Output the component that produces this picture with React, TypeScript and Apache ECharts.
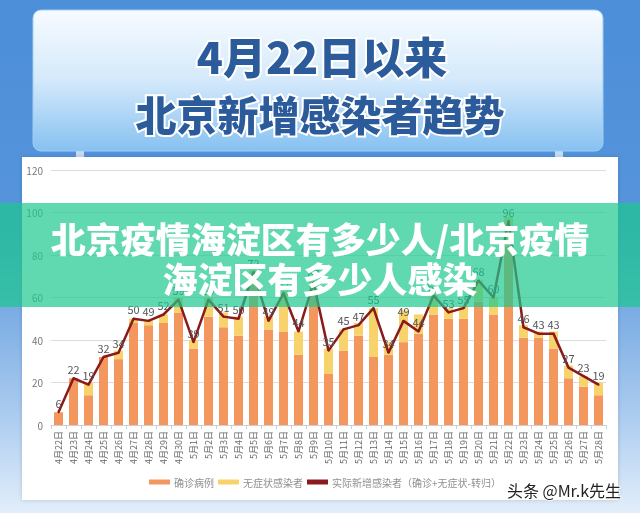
import React, { useEffect, useRef } from "react";
import * as echarts from "echarts";

const dates = [
  "4月22日", "4月23日", "4月24日", "4月25日", "4月26日", "4月27日", "4月28日", "4月29日", "4月30日",
  "5月1日", "5月2日", "5月3日", "5月4日", "5月5日", "5月6日", "5月7日", "5月8日", "5月9日", "5月10日",
  "5月11日", "5月12日", "5月13日", "5月14日", "5月15日", "5月16日", "5月17日", "5月18日", "5月19日", "5月20日",
  "5月21日", "5月22日", "5月23日", "5月24日", "5月25日", "5月26日", "5月27日", "5月28日",
];
const confirmed = [
  6, 22, 14, 32, 31, 48, 47, 48, 53,
  36, 51, 46, 42, 66, 45, 44, 33, 62, 24,
  35, 42, 32, 33, 39, 43, 52, 50, 50, 58,
  52, 84, 41, 41, 36, 22, 18, 14,
];
const asymptomatic = [
  0, 0, 6, 0, 4, 2, 2, 4, 7,
  4, 9, 7, 9, 7, 6, 19, 11, 6, 12,
  10, 6, 23, 6, 15, 9, 10, 5, 6, 10,
  8, 14, 6, 3, 8, 6, 5, 6,
];
const actualNew = [
  6, 22, 19, 32, 34, 50, 49, 52, 59,
  39, 59, 51, 50, 72, 49, 62, 44, 67, 35,
  45, 47, 55, 34, 49, 44, 61, 53, 55, 68,
  60, 96, 46, 43, 43, 27, 23, 19,
];
const yTicks = { min: 0, max: 120, interval: 20 };
const seriesNames = ["确诊病例", "无症状感染者", "实际新增感染者（确诊+无症状-转归）"];
const titleLines = ["4月22日以来", "北京新增感染者趋势"];
const bannerLines = ["北京疫情海淀区有多少人/北京疫情", "海淀区有多少人感染"];
const watermark = "头条 @Mr.k先生";

const CJK = '"Noto Sans CJK SC", "Noto Sans", sans-serif';

export default function App() {
  const ref = useRef<HTMLDivElement>(null);
  useEffect(() => {
    if (!ref.current) return;
    const chart = echarts.init(ref.current, undefined, { renderer: "svg" });
    chart.setOption({
      animation: false,
      textStyle: { fontFamily: CJK },
      grid: { left: 51, right: 34, top: 170, bottom: 88, containLabel: false },
      legend: {
        bottom: 21,
        left: 144,
        itemWidth: 21,
        itemHeight: 5,
        itemGap: 4,
        icon: "rect",
        textStyle: { fontSize: 10, color: "#909090", padding: [0, 0, 0, -1] },
        data: seriesNames,
      },
      xAxis: {
        type: "category",
        data: dates,
        axisLine: { lineStyle: { color: "#cfcfcf" } },
        axisTick: { show: true, length: 4, lineStyle: { color: "#cfcfcf" } },
        axisLabel: { rotate: 90, fontSize: 9, color: "#666", interval: 0, margin: 6 },
      },
      yAxis: {
        type: "value",
        min: yTicks.min,
        max: yTicks.max,
        interval: yTicks.interval,
        axisLine: { show: false },
        axisTick: { show: false },
        axisLabel: { fontSize: 10, color: "#777", margin: 8 },
        splitLine: { lineStyle: { color: "#dcdcdc", width: 1 } },
      },
      series: [
        {
          name: seriesNames[0],
          type: "bar",
          stack: "total",
          barWidth: 9,
          itemStyle: { color: "#f4975f" },
          data: confirmed,
        },
        {
          name: seriesNames[1],
          type: "bar",
          stack: "total",
          barWidth: 9,
          itemStyle: { color: "#f8d36c" },
          data: asymptomatic,
        },
        {
          name: seriesNames[2],
          type: "line",
          data: actualNew,
          symbol: "circle",
          symbolSize: 2,
          itemStyle: { color: "#8b1a1a" },
          lineStyle: { color: "#8b1a1a", width: 2.5 },
          label: { show: true, position: "top", distance: 3, fontSize: 11, color: "#555" },
          z: 5,
        },
      ],
      graphic: [
        {
          type: "rect",
          z: -20,
          silent: true,
          shape: { x: 0, y: 0, width: 640, height: 513 },
          style: {
            fill: new echarts.graphic.LinearGradient(0, 0, 0, 1, [
              { offset: 0, color: "#4d8ed9" },
              { offset: 0.45, color: "#5695dc" },
              { offset: 0.8, color: "#a9caef" },
              { offset: 1, color: "#e2eefa" },
            ]),
          },
        },
        {
          type: "rect",
          z: -19,
          silent: true,
          shape: { x: 76, y: 145, width: 8, height: 14 },
          style: { fill: "#c6dcf6" },
        },
        {
          type: "rect",
          z: -19,
          silent: true,
          shape: { x: 555, y: 145, width: 8, height: 14 },
          style: { fill: "#c6dcf6" },
        },
        {
          type: "rect",
          z: -18,
          silent: true,
          shape: { x: 33, y: 10, width: 570, height: 141, r: 8 },
          style: {
            fill: new echarts.graphic.LinearGradient(0, 0, 0, 1, [
              { offset: 0, color: "#f7fbff" },
              { offset: 0.5, color: "#d4e9fb" },
              { offset: 1, color: "#86c1f1" },
            ]),
            stroke: "#9fcdf3",
            lineWidth: 1,
          },
        },
        {
          type: "text",
          z: -17,
          silent: true,
          x: 322,
          y: 55,
          style: {
            text: titleLines[0],
            fontSize: 43,
            fontWeight: 900,
            fontFamily: CJK,
            fill: "#2b5b9b",
            stroke: "#ffffff",
            lineWidth: 4,
            align: "center",
            verticalAlign: "middle",
          },
        },
        {
          type: "text",
          z: -17,
          silent: true,
          x: 320,
          y: 113,
          style: {
            text: titleLines[1],
            fontSize: 41,
            fontWeight: 900,
            fontFamily: CJK,
            fill: "#2b5b9b",
            stroke: "#ffffff",
            lineWidth: 4,
            align: "center",
            verticalAlign: "middle",
          },
        },
        {
          type: "rect",
          z: -15,
          silent: true,
          shape: { x: 22, y: 157, width: 596, height: 343 },
          style: { fill: "#ffffff", shadowBlur: 4, shadowColor: "rgba(0,0,0,0.15)" },
        },
        {
          type: "rect",
          z: 100,
          silent: true,
          shape: { x: 0, y: 203, width: 640, height: 104 },
          style: { fill: "rgba(29,200,143,0.7)" },
        },
        {
          type: "text",
          z: 101,
          silent: true,
          x: 320,
          y: 237,
          style: {
            text: bannerLines[0],
            fontSize: 35,
            fontWeight: 900,
            fontFamily: CJK,
            fill: "#ffffff",
            align: "center",
            verticalAlign: "middle",
          },
        },
        {
          type: "text",
          z: 101,
          silent: true,
          x: 320,
          y: 277,
          style: {
            text: bannerLines[1],
            fontSize: 35,
            fontWeight: 900,
            fontFamily: CJK,
            fill: "#ffffff",
            align: "center",
            verticalAlign: "middle",
          },
        },
        {
          type: "text",
          z: 101,
          silent: true,
          x: 564,
          y: 490,
          style: {
            text: watermark,
            fontSize: 16,
            fontFamily: CJK,
            fill: "#222222",
            stroke: "rgba(255,255,255,0.8)",
            lineWidth: 2,
            align: "center",
            verticalAlign: "middle",
          },
        },
      ],
    });
    return () => chart.dispose();
  }, []);
  return (
    <div
      ref={ref}
      style={{ position: "fixed", left: 0, top: 0, width: 640, height: 513 }}
    />
  );
}
